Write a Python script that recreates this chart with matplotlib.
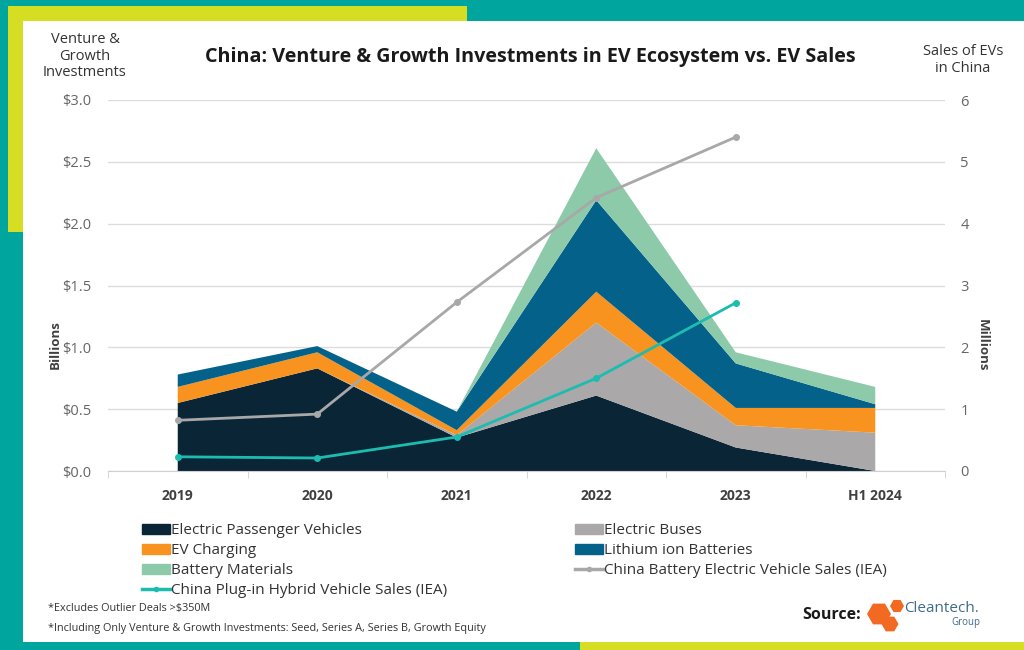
import numpy as np
import matplotlib
matplotlib.use('Agg')
import matplotlib.pyplot as plt
from matplotlib.patches import Rectangle, Patch, RegularPolygon
from matplotlib.lines import Line2D

plt.rcParams['font.family'] = ['Open Sans', 'DejaVu Sans']

# investment by segment, $ billions
periods = ['2019', '2020', '2021', '2022', '2023', 'H1 2024']
passenger = [0.55, 0.83, 0.27, 0.61, 0.19, 0.0]
buses = [0.0, 0.0, 0.02, 0.59, 0.18, 0.31]
charging = [0.13, 0.13, 0.04, 0.25, 0.14, 0.20]
li_ion = [0.10, 0.05, 0.15, 0.74, 0.36, 0.03]
materials = [0.0, 0.0, 0.0, 0.42, 0.09, 0.14]

# EV sales in China, millions (no H1 2024 figure)
bev_sales = [0.82, 0.92, 2.73, 4.42, 5.40]
phev_sales = [0.23, 0.21, 0.55, 1.50, 2.72]

c_pass = '#0a2536'
c_bus = '#aaa8a8'
c_chg = '#f7931e'
c_li = '#04618a'
c_mat = '#8ccaa9'
c_bev = '#a8a8a8'
c_phev = '#1cbcb1'

W, H = 1024, 650
fig = plt.figure(figsize=(W / 100, H / 100), dpi=100, facecolor='#00a69e')

def px_rect(x0, y0, x1, y1, color):
    fig.patches.append(Rectangle((x0 / W, 1 - y1 / H), (x1 - x0) / W, (y1 - y0) / H,
                                 transform=fig.transFigure, facecolor=color,
                                 edgecolor='none', zorder=-5))

px_rect(8, 6, 467, 232, '#d6de23')
px_rect(23, 21, 1024, 642, 'white')
px_rect(580, 642, 1024, 650, '#d6de23')

ax = fig.add_axes([108 / W, 1 - 471 / H, (945 - 108) / W, (471 - 100) / H])
ax.set_facecolor('none')
x = np.arange(len(periods))
ax.stackplot(x, passenger, buses, charging, li_ion, materials,
             colors=[c_pass, c_bus, c_chg, c_li, c_mat], lw=0)
ax.set_xlim(-0.5, 5.5)
ax.set_ylim(0, 3.0)
ax.set_yticks(np.arange(0, 3.01, 0.5))
ax.set_yticklabels([f'${v:.1f}' for v in np.arange(0, 3.01, 0.5)])
ax.grid(axis='y', color='#dcdcdc', lw=1)
ax.set_axisbelow(True)
for s in ['top', 'left', 'right']:
    ax.spines[s].set_visible(False)
ax.spines['bottom'].set_color('#d0d0d0')
ax.set_xticks(x)
ax.set_xticklabels(periods, fontweight='bold', fontsize=10, color='#404040')
ax.set_xticks(np.arange(-0.5, 6, 1), minor=True)
ax.tick_params(axis='x', which='major', length=0, pad=13)
ax.tick_params(axis='x', which='minor', length=5, color='#d0d0d0')
ax.tick_params(axis='y', length=0, pad=12, labelsize=10.5, labelcolor='#666666')

ax2 = ax.twinx()
ax2.plot(x[:5], bev_sales, color=c_bev, lw=2, marker='o', ms=4)
ax2.plot(x[:5], phev_sales, color=c_phev, lw=2, marker='o', ms=4)
ax2.set_ylim(0, 6)
ax2.set_yticks(range(7))
for s in ax2.spines.values():
    s.set_visible(False)
ax2.tick_params(axis='y', length=0, pad=11, labelsize=10.5, labelcolor='#666666')

# titles and axis captions
fig.text(530 / W, 1 - 57 / H, 'China: Venture & Growth Investments in EV Ecosystem vs. EV Sales',
         ha='center', va='center', fontsize=14.2, fontweight='bold', color='#1a1a1a')
fig.text(85 / W, 1 - 56 / H, 'Venture &\nGrowth\nInvestments', ha='center', va='center',
         fontsize=10.5, color='#333333', linespacing=1.1)
fig.text(963 / W, 1 - 60 / H, 'Sales of EVs\nin China', ha='center', va='center',
         fontsize=10.5, color='#333333', linespacing=1.1)
fig.text(55 / W, 1 - 345 / H, 'Billions', rotation=90, ha='center', va='center',
         fontsize=9.5, fontweight='bold', color='#404040')
fig.text(982 / W, 1 - 345 / H, 'Millions', rotation=-90, ha='center', va='center',
         fontsize=9.5, fontweight='bold', color='#404040')

# legend: column-major order gives the two-column layout
handles = [
    Patch(color=c_pass), Patch(color=c_chg), Patch(color=c_mat),
    Line2D([], [], color=c_phev, lw=2.5, marker='o', ms=3),
    Patch(color=c_bus), Patch(color=c_li),
    Line2D([], [], color=c_bev, lw=2.5, marker='o', ms=3),
]
labels = ['Electric Passenger Vehicles', 'EV Charging', 'Battery Materials',
          'China Plug-in Hybrid Vehicle Sales (IEA)',
          'Electric Buses', 'Lithium ion Batteries',
          'China Battery Electric Vehicle Sales (IEA)']
fig.legend(handles, labels, ncol=2, loc='upper left', bbox_to_anchor=(142 / W, 1 - 523 / H),
           frameon=False, fontsize=11, handlelength=1.85, handleheight=0.65,
           handletextpad=0.05, labelspacing=0.33, columnspacing=8.35,
           labelcolor='#333333', borderpad=0, borderaxespad=0)

fig.text(48 / W, 1 - 608 / H, '*Excludes Outlier Deals >$350M', fontsize=7.8,
         color='#333333', va='center')
fig.text(48 / W, 1 - 628 / H,
         '*Including Only Venture & Growth Investments: Seed, Series A, Series B, Growth Equity',
         fontsize=7.8, color='#333333', va='center')

# source logo
fig.text(861 / W, 1 - 615 / H, 'Source:', ha='right', va='center', fontsize=11.5,
         fontweight='bold', color='#1a1a1a')
lax = fig.add_axes([862 / W, 1 - 632 / H, 122 / W, 34 / H])
lax.set_xlim(862, 984)
lax.set_ylim(632, 598)
lax.axis('off')
hex_color = '#f26a22'
for cx, cy, r in [(879, 614, 12), (897, 606, 7), (890, 624, 8.5)]:
    lax.add_patch(RegularPolygon((cx, cy), 6, radius=r, orientation=np.pi / 6,
                                 facecolor=hex_color, edgecolor='none'))
lax.text(904, 608, 'Cleantech.', fontsize=11, color='#3e6c8c', va='center', ha='left')
lax.text(980, 623, 'Group', fontsize=7, color='#3e6c8c', va='center', ha='right')

fig.savefig('out.png', dpi=100, facecolor=fig.get_facecolor())
